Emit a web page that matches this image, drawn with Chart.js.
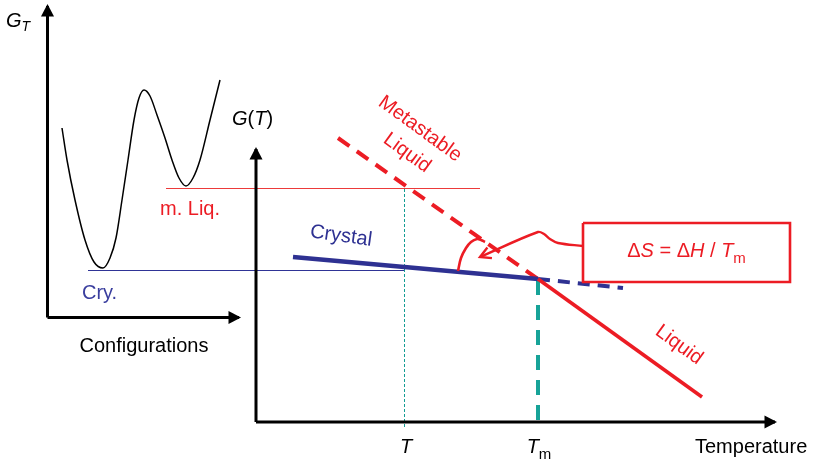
<!DOCTYPE html>
<html>
<head>
<meta charset="utf-8">
<script src="https://cdn.jsdelivr.net/npm/chart.js@4/dist/chart.umd.min.js"></script>
<style>
  html, body { margin: 0; padding: 0; background: #ffffff; }
  canvas { display: block; }
</style>
</head>
<body>
<canvas id="c" width="814" height="460"></canvas>
<script>
// ---- Drawing frame: horizontal position (0..814) and free energy level (0..460, downward) ----

// Free-energy landscape over configurations (left panel)
const configX = [62, 67, 75, 85, 94, 103, 110, 116, 122, 128, 134, 139, 144, 150, 157, 165, 172, 179, 186, 193, 200, 210, 220];
const configG = [128, 160, 200, 240, 262, 268, 258, 238, 200, 160, 120, 98, 90, 96, 115, 138, 160, 178, 186, 178, 160, 120, 80];

// Energy levels of the two basins
const liqLevelX = [166, 480], liqLevelG = [188.5, 188.5];
const cryLevelX = [88, 405],  cryLevelG = [270.5, 270.5];

// G(T) branches (right panel)
const crystalT = [293, 538],       crystalG = [257, 279];
const crystalExtT = [538, 623],    crystalExtG = [279, 288];
const metaLiquidT = [338, 538],    metaLiquidG = [138, 279];
const liquidT = [538, 702],        liquidG = [279, 397];

// Temperature markers
const tGuideT = [404.5, 404.5], tGuideG = [189, 429];
const tmGuideT = [538, 538],    tmGuideG = [280, 422];

// Entropy-difference angle and its callout
const angleArcX = [458, 461, 466, 471, 477, 481, 485];
const angleArcG = [271, 258, 248, 242, 239, 240, 242];
const calloutX = [583, 558, 550, 544, 538, 480];
const calloutG = [246, 243, 239, 234, 232, 257];
const boxX = [583, 790, 790, 583, 583];
const boxG = [223, 223, 282, 282, 223];

// Axes
const leftYAxisX = [47.5, 47.5],  leftYAxisG = [317.5, 6];
const leftXAxisX = [47.5, 239],   leftXAxisG = [317.5, 317.5];
const rightYAxisX = [256, 256],   rightYAxisG = [422, 149];
const rightXAxisX = [256, 775],   rightXAxisG = [422, 422];

// Tick labels
const tickLabels = ['T', 'T'];
const tickPos = [404, 538];

const RED = '#ec1c24';
const NAVY = '#2e3192';
const TEAL = '#17a398';
const FONT = '"Liberation Sans", Arial, Helvetica, sans-serif';

const pts = (xs, ys) => xs.map((x, i) => ({ x: x, y: ys[i] }));

function ds(label, xs, ys, opts) {
  return Object.assign({
    label: label,
    data: pts(xs, ys),
    showLine: true,
    pointRadius: 0,
    pointHoverRadius: 0,
    borderColor: '#000',
    borderWidth: 1,
    tension: 0,
    fill: false,
    borderCapStyle: 'butt'
  }, opts);
}

const datasets = [
  ds('box', boxX, boxG, { borderColor: RED, borderWidth: 2.6, borderJoinStyle: 'miter', order: 1 }),
  ds('callout', calloutX, calloutG, { borderColor: RED, borderWidth: 2.4, tension: 0.35, arrowHead: 'open', order: 1 }),
  ds('angle', angleArcX, angleArcG, { borderColor: RED, borderWidth: 2.6, tension: 0.4, order: 1 }),
  ds('liquid', liquidT, liquidG, { borderColor: RED, borderWidth: 3.6, order: 2 }),
  ds('metastable', metaLiquidT, metaLiquidG, { borderColor: RED, borderWidth: 4, borderDash: [14, 9], order: 3 }),
  ds('crystal', crystalT, crystalG, { borderColor: NAVY, borderWidth: 4.5, order: 2 }),
  ds('crystalExt', crystalExtT, crystalExtG, { borderColor: NAVY, borderWidth: 4, borderDash: [12, 8], order: 3 }),
  ds('tm', tmGuideT, tmGuideG, { borderColor: TEAL, borderWidth: 4, borderDash: [15, 10], order: 4 }),
  ds('t', tGuideT, tGuideG, { borderColor: '#139c93', borderWidth: 1, borderDash: [3, 2], order: 5 }),
  ds('liqLevel', liqLevelX, liqLevelG, { borderColor: '#ec3a3a', borderWidth: 1, order: 6 }),
  ds('cryLevel', cryLevelX, cryLevelG, { borderColor: '#2f3496', borderWidth: 1, order: 6 }),
  ds('landscape', configX, configG, { borderColor: '#000', borderWidth: 1.5, cubicInterpolationMode: 'monotone', order: 4 }),
  ds('leftY', leftYAxisX, leftYAxisG, { borderWidth: 3, arrowHead: 'solid', order: 4 }),
  ds('leftX', leftXAxisX, leftXAxisG, { borderWidth: 3, arrowHead: 'solid', order: 4 }),
  ds('rightY', rightYAxisX, rightYAxisG, { borderWidth: 3, arrowHead: 'solid', order: 4 }),
  ds('rightX', rightXAxisX, rightXAxisG, { borderWidth: 3, arrowHead: 'solid', order: 4 })
];

// Arrowheads at the end of flagged lines, placed from the library's own point elements
const arrowPlugin = {
  id: 'arrowHeads',
  afterDatasetsDraw(chart) {
    const ctx = chart.ctx;
    chart.data.datasets.forEach((d, i) => {
      if (!d.arrowHead) return;
      const pts = chart.getDatasetMeta(i).data;
      const a = pts[pts.length - 2], b = pts[pts.length - 1];
      const ang = Math.atan2(b.y - a.y, b.x - a.x);
      const ux = Math.cos(ang), uy = Math.sin(ang);
      ctx.save();
      if (d.arrowHead === 'solid') {
        const len = 12.5, half = 6.5;
        const tx = b.x + ux * 2, ty = b.y + uy * 2;
        ctx.fillStyle = d.borderColor;
        ctx.beginPath();
        ctx.moveTo(tx, ty);
        ctx.lineTo(tx - ux * len - uy * half, ty - uy * len + ux * half);
        ctx.lineTo(tx - ux * len + uy * half, ty - uy * len - ux * half);
        ctx.closePath();
        ctx.fill();
      } else {
        const len = 12, spread = 0.5;
        ctx.strokeStyle = d.borderColor;
        ctx.lineWidth = d.borderWidth;
        ctx.lineJoin = 'miter';
        ctx.beginPath();
        ctx.moveTo(b.x - len * Math.cos(ang - spread), b.y - len * Math.sin(ang - spread));
        ctx.lineTo(b.x, b.y);
        ctx.lineTo(b.x - len * Math.cos(ang + spread), b.y - len * Math.sin(ang + spread));
        ctx.stroke();
      }
      ctx.restore();
    });
  }
};

// Labels: runs of [text, style, size, baselineShift]
function runWidth(ctx, runs) {
  let w = 0;
  runs.forEach(r => {
    ctx.font = (r[1] === 'i' ? 'italic ' : '') + r[2] + 'px ' + FONT;
    w += ctx.measureText(r[0]).width;
  });
  return w;
}
function drawRuns(ctx, runs, x, y, color, align) {
  ctx.fillStyle = color;
  ctx.textBaseline = 'alphabetic';
  ctx.textAlign = 'left';
  let cx = x;
  if (align === 'center') cx = x - runWidth(ctx, runs) / 2;
  runs.forEach(r => {
    ctx.font = (r[1] === 'i' ? 'italic ' : '') + r[2] + 'px ' + FONT;
    ctx.fillText(r[0], cx, y + (r[3] || 0));
    cx += ctx.measureText(r[0]).width;
  });
}
function drawRotated(ctx, text, cx, cy, deg, color, size) {
  ctx.save();
  ctx.translate(cx, cy);
  ctx.rotate(deg * Math.PI / 180);
  ctx.font = size + 'px ' + FONT;
  ctx.fillStyle = color;
  ctx.textAlign = 'center';
  ctx.textBaseline = 'middle';
  ctx.fillText(text, 0, 0);
  ctx.restore();
}

const labelPlugin = {
  id: 'labels',
  afterDraw(chart) {
    const ctx = chart.ctx;
    const sx = v => chart.scales.x.getPixelForValue(v);
    const sy = v => chart.scales.y.getPixelForValue(v);
    ctx.save();
    // axis titles
    drawRuns(ctx, [['G', 'i', 20], ['T', 'i', 14, 4]], sx(6), sy(27), '#000');
    drawRuns(ctx, [['G', 'i', 20], ['(', 'n', 20], ['T', 'i', 20], [')', 'n', 20]], sx(232), sy(125), '#000');
    drawRuns(ctx, [['Configurations', 'n', 20]], sx(144), sy(352), '#000', 'center');
    drawRuns(ctx, [['Temperature', 'n', 20]], sx(695), sy(453), '#000');
    // temperature ticks
    drawRuns(ctx, [[tickLabels[0], 'i', 20]], sx(tickPos[0] + 2), sy(453), '#000', 'center');
    drawRuns(ctx, [[tickLabels[1], 'i', 20], ['m', 'n', 15, 6]], sx(tickPos[1] + 1), sy(453), '#000', 'center');
    // basin labels
    drawRuns(ctx, [['m. Liq.', 'n', 20]], sx(160), sy(215), RED);
    drawRuns(ctx, [['Cry.', 'n', 20]], sx(82), sy(299), '#3a3e9e');
    // branch labels
    drawRotated(ctx, 'Metastable', sx(420), sy(129), 36, RED, 20);
    drawRotated(ctx, 'Liquid', sx(407), sy(153), 36, RED, 20);
    drawRotated(ctx, 'Crystal', sx(341), sy(236), 8, NAVY, 20);
    drawRotated(ctx, 'Liquid', sx(679), sy(345), 36, RED, 20);
    // callout text
    drawRuns(ctx, [['\u0394', 'n', 20], ['S', 'i', 20], [' = ', 'n', 20], ['\u0394', 'n', 20], ['H', 'i', 20],
                   [' / ', 'n', 20], ['T', 'i', 20], ['m', 'n', 15, 6]],
             sx((boxX[0] + boxX[1]) / 2), sy(257), RED, 'center');
    ctx.restore();
  }
};

new Chart(document.getElementById('c'), {
  type: 'scatter',
  data: { datasets: datasets },
  options: {
    responsive: false,
    animation: false,
    devicePixelRatio: 1,
    layout: { padding: 0 },
    events: [],
    plugins: { legend: { display: false }, tooltip: { enabled: false } },
    scales: {
      x: { type: 'linear', min: 0, max: 814, display: false },
      y: { type: 'linear', min: 0, max: 460, reverse: true, display: false }
    },
    elements: { line: { borderJoinStyle: 'round' } }
  },
  plugins: [arrowPlugin, labelPlugin]
});
</script>
</body>
</html>
